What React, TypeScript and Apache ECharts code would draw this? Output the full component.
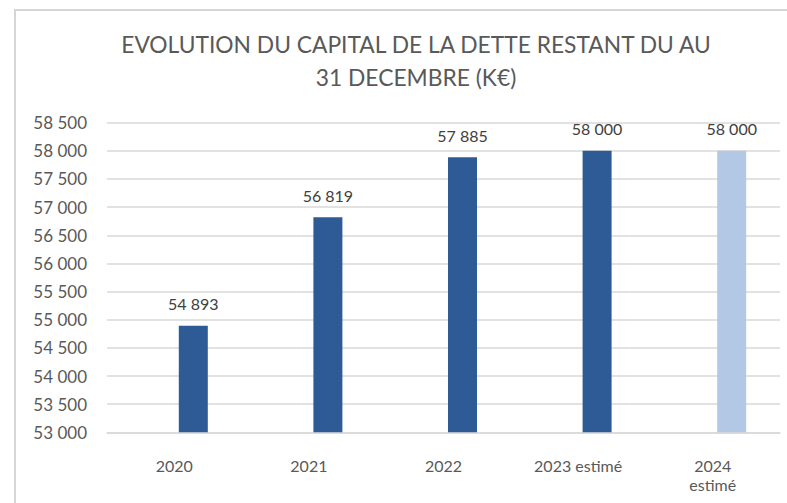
import React, { useEffect, useRef } from "react";
import * as echarts from "echarts";

const TITLE_LINES = ["EVOLUTION DU CAPITAL DE LA DETTE RESTANT DU AU", "31 DECEMBRE (K€)"];
const CATEGORIES = ["2020", "2021", "2022", "2023 estimé", "2024 estimé"];
const VALUES = [54893, 56819, 57885, 58000, 58000];
const EMPTY_SLOT = [null, null, null, null, null];
const Y_MIN = 53000;
const Y_MAX = 58500;
const Y_STEP = 500;

const DARK = "#2e5b95";
const LIGHT = "#b3c8e4";

const fmt = (v: number) => String(v).replace(/\B(?=(\d{3})+(?!\d))/g, " ");

export default function App() {
  const ref = useRef<HTMLDivElement>(null);
  useEffect(() => {
    if (!ref.current) return;
    const chart = echarts.init(ref.current, null, { renderer: "svg" });
    chart.setOption({
      animation: false,
      backgroundColor: "#ffffff",
      textStyle: { fontFamily: "Lato" },
      title: {
        text: TITLE_LINES.join("\n"),
        left: 411,
        top: 22,
        textAlign: "center",
        textStyle: {
          fontFamily: "Lato",
          fontSize: 22.8,
          fontWeight: "normal",
          color: "#595959",
          lineHeight: 33,
        },
      },
      graphic: [
        {
          type: "rect",
          shape: { x: 15, y: 10, width: 800, height: 520 },
          style: { fill: "none", stroke: "#d6d6d6", lineWidth: 2 },
          silent: true,
        },
      ],
      grid: { left: 107, right: 7, top: 122.7, bottom: 70.7, containLabel: false },
      xAxis: {
        type: "category",
        data: CATEGORIES,
        axisLine: { show: true, lineStyle: { color: "#d9d9d9", width: 1.5 } },
        axisTick: { show: false },
        axisLabel: {
          margin: 24,
          fontFamily: "Lato",
          fontSize: 16,
          color: "#595959",
          lineHeight: 19,
          formatter: (v: string, i: number) => (i === CATEGORIES.length - 1 ? v.replace(" ", "\n") : v),
        },
      },
      yAxis: {
        type: "value",
        min: Y_MIN,
        max: Y_MAX,
        interval: Y_STEP,
        axisLine: { show: false },
        axisTick: { show: false },
        splitLine: { lineStyle: { color: "#d9d9d9", width: 1.5 } },
        axisLabel: {
          margin: 20,
          fontFamily: "Lato",
          fontSize: 17,
          color: "#595959",
          formatter: (v: number) => fmt(v),
        },
      },
      series: [
        {
          type: "bar",
          name: "vide",
          data: EMPTY_SLOT,
          barWidth: 29,
          barGap: "31%",
        },
        {
          type: "bar",
          name: "capital",
          data: VALUES,
          barWidth: 29,
          barGap: "31%",
          itemStyle: {
            color: (p: any) => (p.dataIndex === VALUES.length - 1 ? LIGHT : DARK),
          },
          label: {
            show: true,
            position: "top",
            distance: 14,
            fontFamily: "Lato",
            fontSize: 16,
            color: "#404040",
            formatter: (p: any) => fmt(p.value),
          },
        },
      ],
    });
    return () => chart.dispose();
  }, []);
  return (
    <div
      ref={ref}
      style={{ position: "fixed", left: 0, top: 0, width: 787, height: 503 }}
    />
  );
}
